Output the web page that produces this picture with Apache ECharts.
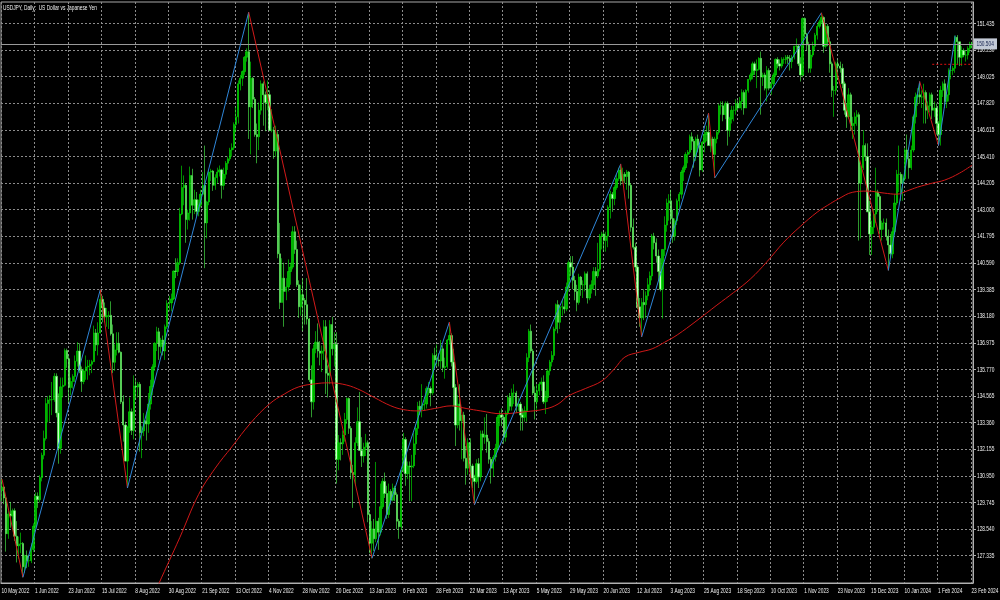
<!DOCTYPE html>
<html><head><meta charset="utf-8">
<script src="https://cdn.jsdelivr.net/npm/echarts@6/dist/echarts.min.js"></script>
<style>html,body{margin:0;padding:0;background:#000;}#c{width:1000px;height:600px;}</style>
</head><body><div id="c"></div>
<script>
const chartTitle = 'USDJPY, Daily:  US Dollar vs Japanese Yen';
const xTickLabels = ['10 May 2022','1 Jun 2022','23 Jun 2022','15 Jul 2022','8 Aug 2022','30 Aug 2022','21 Sep 2022','13 Oct 2022','4 Nov 2022','28 Nov 2022','20 Dec 2022','13 Jan 2023','6 Feb 2023','28 Feb 2023','22 Mar 2023','13 Apr 2023','5 May 2023','29 May 2023','20 Jun 2023','12 Jul 2023','3 Aug 2023','25 Aug 2023','18 Sep 2023','10 Oct 2023','1 Nov 2023','23 Nov 2023','15 Dec 2023','10 Jan 2024','1 Feb 2024','23 Feb 2024'];
const xTickIndex = [0,16,32,48,64,80,96,112,128,144,160,176,192,208,224,240,256,272,288,304,320,336,352,368,384,400,416,432,448,464];
const yTickLabels = ['127.335','128.540','129.745','130.950','132.155','133.360','134.565','135.770','136.975','138.180','139.385','140.590','141.795','143.000','144.205','145.410','146.615','147.820','149.025','150.230','151.435'];
// daily bars: [open, high, low, close]
const ohlc = [
[130.28,130.80,129.80,130.45],[130.45,130.50,129.67,129.95],[129.95,130.00,127.52,128.33],[128.33,129.37,128.10,129.22],[129.22,129.77,128.60,129.14],[129.14,129.47,128.65,129.37],[129.37,129.48,128.00,128.22],[128.22,128.90,127.03,127.78],[127.78,128.20,127.20,127.87],[127.87,128.38,127.45,127.89],[127.89,127.95,126.36,126.83],[126.83,127.38,126.55,127.33],[127.33,127.57,126.77,127.11],[127.11,127.38,126.83,127.11],[127.11,127.90,127.00,127.62],[127.62,128.80,127.50,128.67],
[128.67,130.20,128.55,130.03],[130.03,130.20,129.50,129.87],[129.87,130.98,129.75,130.87],[130.87,132.00,130.70,131.88],[131.88,133.00,131.70,132.64],[132.64,134.48,132.55,134.22],[134.22,134.56,133.37,134.38],[134.38,134.60,133.40,134.40],[134.40,135.20,133.70,134.40],[134.40,135.60,134.30,135.46],[135.46,135.59,133.60,133.80],[133.80,134.68,131.50,132.20],[132.20,135.40,131.95,134.98],[134.98,135.40,134.50,135.05],[135.05,136.72,135.00,136.62],[136.62,136.71,135.84,136.25],
[136.25,136.40,134.27,134.95],[134.95,135.40,134.60,135.22],[135.22,135.55,134.90,135.45],[135.45,136.40,135.20,136.14],[136.14,137.00,135.90,136.60],[136.60,136.95,135.60,135.73],[135.73,135.90,134.75,135.22],[135.22,135.80,135.10,135.70],[135.70,136.40,135.30,135.88],[135.88,136.20,135.30,135.92],[135.92,136.20,135.50,136.00],[136.00,136.20,135.60,136.12],[136.12,137.75,136.10,137.42],[137.42,137.60,136.60,136.88],[136.88,137.90,136.40,137.42],[137.42,139.38,137.40,138.94],
[138.94,139.10,137.90,138.55],[138.55,138.80,137.90,138.15],[138.15,138.55,137.70,138.20],[138.20,138.40,137.60,138.22],[138.22,138.85,137.30,137.38],[137.38,137.80,135.60,136.09],[136.09,136.90,135.70,136.65],[136.65,137.45,136.40,136.95],[136.95,137.45,136.50,136.55],[136.55,136.58,134.20,134.30],[134.30,134.60,132.50,133.25],[133.25,133.40,131.60,131.62],[131.62,133.20,130.40,133.15],[133.15,134.50,132.90,133.85],[133.85,134.00,132.80,133.00],[133.00,135.50,132.60,135.02],
[135.02,135.30,134.40,134.97],[134.97,135.20,134.50,135.10],[135.10,135.20,132.05,132.90],[132.90,133.20,131.75,132.98],[132.98,133.80,132.75,133.45],[133.45,133.85,132.55,133.30],[133.30,134.70,132.90,134.20],[134.20,135.30,133.95,135.00],[135.00,136.00,134.60,135.88],[135.88,137.00,135.70,136.95],[136.95,137.70,136.60,137.47],[137.47,137.65,136.20,136.80],[136.80,137.20,136.50,137.10],[137.10,137.30,136.40,136.60],[136.60,137.80,136.20,137.70],[137.70,138.90,137.60,138.75],
[138.75,139.10,138.40,138.78],[138.78,139.20,138.40,138.96],[138.96,140.25,138.90,140.22],[140.22,140.80,139.90,140.20],[140.20,140.80,140.00,140.60],[140.60,143.08,140.50,142.80],[142.80,144.99,142.75,144.00],[144.00,144.55,143.20,144.10],[144.10,144.20,141.50,142.55],[142.55,143.00,142.10,142.85],[142.85,144.95,142.50,144.55],[144.55,144.85,142.55,143.20],[143.20,143.90,142.80,143.45],[143.45,143.80,142.70,142.92],[142.92,143.45,142.70,143.20],[143.20,143.90,143.10,143.70],
[143.70,144.70,143.70,144.10],[144.10,145.90,140.35,142.40],[142.40,143.40,141.70,143.35],[143.35,144.80,143.20,144.70],[144.70,144.85,144.30,144.75],[144.75,144.80,143.85,144.10],[144.10,144.60,143.90,144.45],[144.45,144.90,144.20,144.70],[144.70,145.00,144.50,144.80],[144.80,144.85,143.50,144.10],[144.10,144.90,143.90,144.60],[144.60,145.20,144.40,145.10],[145.10,145.40,144.80,145.30],[145.30,145.80,145.20,145.70],[145.70,146.00,145.40,145.80],[145.80,146.95,145.70,146.85],
[146.85,147.65,146.50,147.20],[147.20,148.85,146.90,148.70],[148.70,149.10,148.40,148.95],[148.95,149.30,148.60,149.25],[149.25,149.95,149.10,149.90],[149.90,150.30,149.70,150.15],[150.15,151.94,146.20,147.65],[147.65,149.70,145.50,148.95],[148.95,149.00,147.60,148.00],[148.00,148.10,146.30,146.40],[146.40,146.90,145.10,146.30],[146.30,147.85,145.70,147.50],[147.50,148.85,147.30,148.70],[148.70,148.80,146.80,148.20],[148.20,148.35,146.55,147.85],[147.85,148.85,147.50,148.20],
[148.20,148.40,146.55,146.60],[146.60,147.55,146.50,146.60],[146.60,146.75,145.30,145.65],[145.65,146.80,145.40,146.40],[146.40,146.55,140.80,141.00],[141.00,142.40,138.50,138.80],[138.80,140.80,138.80,139.90],[139.90,140.60,137.70,139.30],[139.30,139.90,138.90,139.50],[139.50,140.75,139.30,140.20],[140.20,140.60,139.60,140.40],[140.40,142.25,140.30,142.00],[142.00,142.25,141.00,141.20],[141.20,141.60,139.50,139.60],[139.60,139.80,138.10,138.60],[138.60,139.60,138.20,139.15],
[139.15,139.90,137.50,138.90],[138.90,139.00,137.80,138.70],[138.70,139.90,137.80,138.05],[138.05,138.10,135.20,135.30],[135.30,135.95,133.60,134.30],[134.30,136.90,133.95,136.70],[136.70,137.50,136.50,137.00],[137.00,137.85,136.30,136.60],[136.60,137.05,135.95,136.50],[136.50,136.85,135.65,136.60],[136.60,138.00,136.20,137.70],[137.70,138.00,134.65,135.60],[135.60,135.95,134.50,135.50],[135.50,138.00,135.10,137.80],[137.80,138.15,136.40,136.70],[136.70,137.45,135.90,136.90],
[136.90,137.45,130.60,131.70],[131.70,132.80,131.20,132.45],[132.45,132.65,131.65,132.40],[132.40,133.00,131.90,132.80],[132.80,133.80,132.50,133.50],[133.50,134.50,133.30,134.45],[134.45,134.50,132.85,133.10],[133.10,133.20,130.80,131.10],[131.10,131.45,129.50,131.00],[131.00,132.70,130.50,132.45],[132.45,134.05,132.30,133.40],[133.40,134.75,132.10,132.10],[132.10,132.70,131.35,131.85],[131.85,132.45,131.55,132.25],[132.25,132.85,131.85,132.45],[132.45,132.55,128.85,129.20],
[129.20,129.30,127.45,127.90],[127.90,128.90,127.22,128.55],[128.55,129.00,127.55,128.10],[128.10,131.58,127.95,128.90],[128.90,129.05,127.60,128.40],[128.40,130.60,128.25,129.55],[129.55,130.85,129.45,130.70],[130.70,131.10,129.95,130.15],[130.15,130.50,129.00,129.20],[129.20,130.60,129.05,130.25],[130.25,130.35,129.65,129.85],[129.85,130.60,129.80,130.40],[130.40,130.50,129.80,130.10],[130.10,130.20,128.55,128.90],[128.90,129.00,128.10,128.65],[128.65,131.20,128.50,131.20],
[131.20,132.90,131.10,132.60],[132.60,132.70,130.50,131.05],[131.05,131.60,130.80,131.40],[131.40,131.60,129.80,131.35],[131.35,131.90,129.80,131.40],[131.40,132.90,131.30,132.40],[132.40,133.30,131.90,133.10],[133.10,134.30,132.80,134.10],[134.10,134.35,133.70,133.95],[133.95,135.10,133.60,134.15],[134.15,134.40,133.90,134.20],[134.20,135.00,134.00,134.90],[134.90,135.20,134.60,134.90],[134.90,135.00,134.10,134.70],[134.70,136.50,134.60,136.40],[136.40,136.75,135.80,136.20],
[136.20,136.90,135.90,136.20],[136.20,136.50,135.90,136.15],[136.15,137.10,135.80,136.70],[136.70,136.85,135.65,135.85],[135.85,136.30,135.35,135.90],[135.90,137.15,135.80,137.10],[137.10,137.91,136.90,137.30],[137.30,137.40,135.90,136.10],[136.10,136.70,134.10,134.95],[134.95,135.10,132.30,133.25],[133.25,134.60,133.10,134.20],[134.20,135.10,133.00,133.45],[133.45,133.70,131.70,133.70],[133.70,133.85,131.60,131.75],[131.75,132.30,130.55,131.30],[131.30,132.65,131.00,132.45],
[132.45,132.65,131.00,131.40],[131.40,131.50,130.40,130.85],[130.85,131.00,129.64,130.70],[130.70,131.70,130.60,131.50],[131.50,131.75,130.40,130.90],[130.90,133.00,130.70,132.85],[132.85,133.00,132.10,132.70],[132.70,133.60,132.40,132.80],[132.80,133.75,132.00,132.50],[132.50,132.65,131.50,131.70],[131.70,131.80,130.60,131.30],[131.30,131.90,130.90,131.80],[131.80,132.40,131.60,132.20],[132.20,133.70,132.10,133.60],[133.60,133.90,133.20,133.70],[133.70,134.00,133.20,133.60],
[133.60,133.70,132.40,132.70],[132.70,133.90,132.50,133.80],[133.80,134.60,133.70,134.50],[134.50,134.70,133.90,134.10],[134.10,134.90,133.90,134.70],[134.70,135.10,134.20,134.70],[134.70,134.80,133.80,134.10],[134.10,134.50,133.90,134.20],[134.20,134.30,133.00,133.70],[133.70,134.00,133.00,133.60],[133.60,134.10,133.40,133.90],[133.90,136.50,133.40,136.30],[136.30,137.60,136.10,137.50],[137.50,137.80,136.50,136.60],[136.60,136.70,134.60,134.70],[134.70,135.00,133.50,134.30],
[134.30,135.10,133.90,134.80],[134.80,135.20,134.60,135.10],[135.10,135.40,134.80,135.20],[135.20,135.50,134.20,134.30],[134.30,134.80,133.75,134.50],[134.50,135.80,134.30,135.70],[135.70,136.20,135.50,136.10],[136.10,136.60,135.90,136.40],[136.40,137.70,136.20,137.60],[137.60,138.75,137.50,138.70],[138.70,138.90,137.40,137.90],[137.90,138.70,137.60,138.60],[138.60,138.90,138.20,138.60],[138.60,139.20,138.30,138.50],[138.50,139.70,138.40,139.50],[139.50,140.70,139.30,140.60],
[140.60,140.90,140.00,140.40],[140.40,140.90,139.40,139.80],[139.80,140.00,138.90,139.30],[139.30,139.60,138.40,138.80],[138.80,140.10,138.70,139.95],[139.95,140.00,139.10,139.60],[139.60,139.80,139.00,139.60],[139.60,140.20,139.30,140.10],[140.10,140.20,138.75,139.00],[139.00,139.60,138.90,139.40],[139.40,139.80,139.20,139.60],[139.60,140.40,139.40,140.20],[140.20,140.40,139.10,140.00],[140.00,141.50,139.90,140.30],[140.30,141.90,140.20,141.80],[141.80,142.00,141.20,141.90],
[141.90,142.00,141.10,141.60],[141.60,142.00,141.10,141.80],[141.80,143.20,141.30,143.10],[143.10,143.85,142.60,143.70],[143.70,143.80,142.90,143.50],[143.50,144.10,143.20,144.00],[144.00,144.60,143.90,144.40],[144.40,144.90,144.30,144.80],[144.80,145.07,144.10,144.30],[144.30,144.90,144.20,144.60],[144.60,144.70,144.20,144.50],[144.50,144.80,143.90,144.70],[144.70,144.75,143.50,144.10],[144.10,144.20,142.00,142.20],[142.20,142.60,141.20,141.30],[141.30,141.50,140.20,140.40],
[140.40,140.50,138.50,138.60],[138.60,139.00,137.70,138.10],[138.10,139.00,137.24,138.80],[138.80,139.40,138.00,138.70],[138.70,139.30,138.10,139.10],[139.10,139.90,138.90,139.60],[139.60,140.20,139.30,140.00],[140.00,141.90,139.80,141.80],[141.80,141.95,141.20,141.50],[141.50,141.70,140.60,140.90],[140.90,141.20,139.80,140.20],[140.20,140.80,139.30,139.40],[139.40,141.20,138.07,141.20],[141.20,142.70,140.90,142.30],[142.30,143.50,142.00,143.30],[143.30,143.70,142.50,143.40],
[143.40,143.90,142.40,142.60],[142.60,143.00,141.50,141.80],[141.80,142.60,141.60,142.50],[142.50,143.50,142.30,143.40],[143.40,143.80,143.00,143.70],[143.70,144.80,143.50,144.70],[144.70,145.00,144.30,144.90],[144.90,145.60,144.80,145.50],[145.50,145.70,145.10,145.60],[145.60,146.40,145.50,146.30],[146.30,146.50,145.70,146.10],[146.10,146.20,144.90,145.40],[145.40,146.30,145.20,146.20],[146.20,146.40,145.60,145.90],[145.90,146.00,144.50,144.80],[144.80,146.10,144.70,146.05],
[146.05,146.60,145.60,146.40],[146.40,146.80,146.10,146.50],[146.50,147.37,145.90,145.90],[145.90,146.40,145.60,146.20],[146.20,146.30,145.30,145.50],[145.50,146.30,144.44,146.20],[146.20,146.60,146.00,146.50],[146.50,147.80,146.40,147.70],[147.70,147.90,147.30,147.70],[147.70,147.90,147.00,147.30],[147.30,147.90,147.10,147.80],[147.80,147.90,145.90,146.60],[146.60,147.20,146.30,147.10],[147.10,147.70,146.90,147.50],[147.50,147.70,147.00,147.50],[147.50,148.00,147.30,147.80],
[147.80,147.95,147.50,147.60],[147.60,148.10,147.60,147.90],[147.90,148.45,147.50,148.30],[148.30,148.40,147.30,147.60],[147.60,148.45,147.60,148.40],[148.40,148.90,148.30,148.90],[148.90,149.20,148.80,149.10],[149.10,149.70,148.90,149.60],[149.60,149.70,149.10,149.30],[149.30,149.80,148.50,149.35],[149.35,149.90,149.30,149.85],[149.85,150.16,147.30,149.00],[149.00,149.20,148.60,149.10],[149.10,149.20,148.40,148.50],[148.50,149.50,147.90,149.30],[149.30,149.40,148.40,148.50],
[148.50,149.00,148.20,148.70],[148.70,149.20,148.50,149.10],[149.10,149.85,149.00,149.80],[149.80,149.90,149.40,149.60],[149.60,149.80,149.30,149.50],[149.50,149.90,149.40,149.80],[149.80,149.90,149.60,149.80],[149.80,150.00,149.60,149.90],[149.90,150.00,149.60,149.85],[149.85,150.00,149.30,149.70],[149.70,150.00,149.40,149.90],[149.90,150.40,149.80,150.40],[150.40,150.75,150.20,150.40],[150.40,150.50,149.50,149.60],[149.60,149.90,148.80,149.10],[149.10,151.70,149.00,151.65],
[151.65,151.70,150.80,150.95],[150.95,151.00,150.20,150.45],[150.45,150.60,149.20,149.40],[149.40,150.20,149.20,150.00],[150.00,150.60,149.90,150.40],[150.40,151.00,150.20,150.90],[150.90,151.40,150.70,151.30],[151.30,151.60,151.20,151.50],[151.50,151.91,151.40,151.70],[151.70,151.75,150.10,150.40],[150.40,151.40,150.30,151.30],[151.30,151.40,150.40,150.60],[150.60,150.80,149.20,149.60],[149.60,149.70,148.10,148.40],[148.40,148.60,147.20,148.40],[148.40,149.70,148.20,149.60],
[149.60,149.80,148.90,149.50],[149.50,149.70,149.20,149.40],[149.40,149.60,148.50,148.70],[148.70,148.80,147.30,147.50],[147.50,147.80,146.70,147.20],[147.20,148.50,147.10,148.20],[148.20,148.30,146.60,146.80],[146.80,147.20,146.20,146.90],[146.90,147.40,146.40,147.20],[147.20,147.50,146.80,147.30],[147.30,147.40,141.60,144.20],[144.20,145.00,141.70,144.90],[144.90,146.60,144.80,145.90],[145.90,146.00,145.20,145.40],[145.40,146.00,142.90,142.90],[142.90,143.40,140.95,141.90],
[141.90,142.50,140.95,142.20],[142.20,143.00,141.90,142.80],[142.80,144.90,142.40,143.80],[143.80,143.90,142.90,143.60],[143.60,143.70,141.90,142.10],[142.10,142.50,141.60,142.40],[142.40,142.60,142.10,142.40],[142.40,142.60,141.60,141.80],[141.80,142.10,140.25,141.40],[141.40,141.90,140.80,141.00],[141.00,142.20,140.80,142.00],[142.00,143.70,141.90,143.30],[143.30,144.80,143.20,144.60],[144.60,145.90,143.80,144.60],[144.60,144.70,143.40,144.20],[144.20,144.60,143.40,144.40],
[144.40,145.80,144.30,145.70],[145.70,146.40,145.20,145.30],[145.30,145.60,144.40,144.90],[144.90,145.90,144.80,145.70],[145.70,147.30,145.60,147.20],[147.20,148.30,146.90,148.10],[148.10,148.50,147.70,148.20],[148.20,148.80,147.80,148.10],[148.10,148.40,147.60,148.10],[148.10,148.70,146.90,148.30],[148.30,148.40,146.90,147.50],[147.50,147.90,147.10,147.70],[147.70,148.30,147.40,148.20],[148.20,148.30,147.10,147.50],[147.50,147.90,147.20,147.60],[147.60,147.80,146.40,146.90],
[146.90,147.00,145.90,146.40],[146.40,148.60,145.90,148.40],[148.40,148.80,148.10,148.70],[148.70,148.90,147.60,147.90],[147.90,148.30,147.60,148.20],[148.20,149.40,147.90,149.30],[149.30,149.50,148.90,149.30],[149.30,149.50,149.10,149.40],[149.40,150.88,149.20,150.80],[150.80,150.90,149.60,150.60],[150.60,150.60,149.50,149.90],[149.90,150.40,149.50,150.20],[150.20,150.30,149.90,150.00],[150.00,150.20,149.70,150.00],[150.00,150.40,149.80,150.30],[150.30,150.60,150.10,150.50],[150.50,150.60,150.30,150.50]
];
// 200-day moving average: [bar index, value]
const maPoints = [[70,125.00],[75,126.07],[85,128.15],[94,130.10],[102,131.30],[110,132.27],[119,133.35],[128,134.21],[135,134.65],[142,134.98],[150,135.12],[156,135.16],[163,135.10],[170,134.89],[178,134.50],[186,134.12],[192,133.95],[199,133.89],[207,134.00],[215,134.12],[222,134.00],[229,133.89],[239,133.76],[250,133.85],[260,133.98],[266,134.20],[271,134.57],[279,134.90],[287,135.25],[293,135.80],[298,136.33],[305,136.55],[311,136.70],[317,137.00],[323,137.33],[332,137.95],[342,138.68],[350,139.25],[358,139.86],[366,140.65],[374,141.53],[382,142.25],[390,142.89],[395,143.20],[400,143.48],[407,143.79],[414,143.84],[422,143.75],[428,143.70],[433,143.85],[438,144.02],[445,144.20],[451,144.34],[458,144.65],[464,145.01]];
// ZigZag swing points: [bar index, price]
const zigzag = [[0,130.80],[10,126.36],[47,139.38],[60,130.40],[118,151.94],[177,127.22],[214,137.91],[226,129.64],[296,145.07],[306,137.24],[338,147.37],[341,144.44],[392,151.91],[424,140.25],[439,148.80],[448,145.90],[456,150.88]];
const bidPrice = [150.504];
const levelLine = [[445,149.58],[464,149.58]];

const FONT = '8px "Liberation Sans", Arial, sans-serif';
const SQUEEZE = 0.6;
const TXT = '#f2f2f2';
const yTicks = yTickLabels.map(Number);
const cats = ohlc.map((r, i) => String(i));
const candles = ohlc.map(r => [r[0], r[3], r[2], r[1]]);
const lastIdx = ohlc.length - 1;

function txt(text, x, y, align, valign, fill) {
  return { type: 'text', x: x, y: y, scaleX: SQUEEZE,
    style: { text: text, fill: fill || TXT, font: FONT, align: align, textAlign: align, verticalAlign: valign, textVerticalAlign: valign } };
}

const series = [{
  type: 'candlestick', data: candles, barWidth: 1.8,
  itemStyle: { color: '#00b000', color0: '#c8ffc8', borderColor: '#00f000', borderColor0: '#4dff4d', borderWidth: 0.6 },
  markLine: {
    silent: true, symbol: 'none', animation: false,
    lineStyle: { color: '#9a9a9a', type: 'solid', width: 1 },
    label: { show: false },
    data: [{ yAxis: bidPrice[0] }]
  },
  z: 3
}, {
  type: 'line', data: maPoints, smooth: 0.4, symbol: 'none', clip: true,
  lineStyle: { color: '#d01818', width: 1 }, z: 4
}, {
  type: 'line', data: levelLine.map((p, i) => i === levelLine.length - 1 ? { value: p, symbol: 'triangle', symbolRotate: -90, symbolSize: 5 } : { value: p, symbol: 'none' }),
  showSymbol: true, lineStyle: { color: '#e01010', width: 1, type: [2, 2] }, itemStyle: { color: '#e01010' }, z: 5
}];
for (let k = 0; k < zigzag.length - 1; k++) {
  const a = zigzag[k], b = zigzag[k + 1];
  series.push({
    type: 'line', data: [a, b], symbol: 'none',
    lineStyle: { color: b[1] > a[1] ? '#2f86d8' : '#d21a1a', width: 1 }, z: 6
  });
}
// x-axis date labels (left-aligned at their tick, as in the terminal)
series.push({
  type: 'custom', silent: true, clip: false, z: 20,
  data: xTickIndex.map(i => [i, yTicks[0]]),
  renderItem: (params, api) => {
    const p = api.coord([api.value(0), api.value(1)]);
    const cs = params.coordSys;
    return txt(xTickLabels[params.dataIndex], p[0] - 0.5, cs.y + cs.height + 4, 'left', 'top');
  }
});
// y-axis price labels
series.push({
  type: 'custom', silent: true, clip: false, z: 20,
  data: yTicks.map(v => [lastIdx, v]),
  renderItem: (params, api) => {
    const p = api.coord([api.value(0), api.value(1)]);
    const cs = params.coordSys;
    return txt(yTickLabels[params.dataIndex], cs.x + cs.width + 4, p[1], 'left', 'middle');
  }
});
// bid price box
series.push({
  type: 'custom', silent: true, clip: false, z: 30,
  data: [[lastIdx, bidPrice[0]]],
  renderItem: (params, api) => {
    const p = api.coord([api.value(0), api.value(1)]);
    const cs = params.coordSys;
    const x0 = cs.x + cs.width + 1;
    return { type: 'group', children: [
      { type: 'rect', shape: { x: x0, y: p[1] - 5.5, width: 23, height: 11 }, style: { fill: '#c3cad6' } },
      txt(bidPrice[0].toFixed(3), x0 + 2.5, p[1], 'left', 'middle', '#16224e')
    ] };
  }
});

const chart = echarts.init(document.getElementById('c'), null, { renderer: 'canvas' });
chart.setOption({
  animation: false,
  backgroundColor: '#000000',
  graphic: [ txt(chartTitle, 3, 4, 'left', 'top') ],
  grid: { left: 1, right: 27, top: 2, bottom: 17, show: true, borderColor: '#a8a8a8', borderWidth: 1, backgroundColor: '#000' },
  xAxis: {
    type: 'category', data: cats, boundaryGap: true,
    axisLine: { lineStyle: { color: '#b0b0b0' } },
    axisTick: { interval: 15, length: 3, lineStyle: { color: '#b0b0b0' } },
    axisLabel: { show: false },
    splitLine: { show: true, interval: 15, lineStyle: { color: '#8c8c8c', type: [2, 2], width: 1 } }
  },
  yAxis: {
    type: 'value', position: 'right', min: 126.10, max: 152.40, scale: true,
    axisLine: { show: true, lineStyle: { color: '#b0b0b0' } },
    axisTick: { show: true, length: 3, customValues: yTicks, lineStyle: { color: '#b0b0b0' } },
    axisLabel: { show: false, customValues: yTicks },
    splitLine: { show: true, lineStyle: { color: '#8c8c8c', type: [2, 2], width: 1 } }
  },
  series: series
});
</script></body></html>
